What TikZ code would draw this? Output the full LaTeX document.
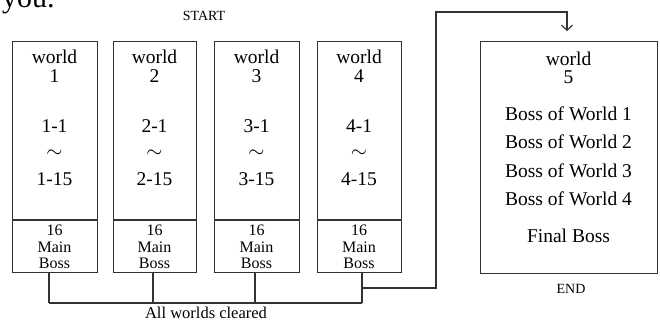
\documentclass[tikz,border=0pt]{standalone}
\usepackage{fontspec}
\setmainfont{Liberation Serif}
\usetikzlibrary{arrows.meta}
\begin{document}
\begin{tikzpicture}[x=1pt,y=-1pt,
  box/.style={draw=black!80, line width=1.2pt, anchor=north west, inner sep=0pt},
  wire/.style={draw=black!80, line width=1.2pt},
  big/.style={anchor=base, inner sep=0pt, text=black, font=\fontsize{19.5}{22}\selectfont},
  small/.style={anchor=base, inner sep=0pt, text=black, font=\fontsize{16}{18}\selectfont},
  lbl/.style={anchor=base, inner sep=0pt, text=black, font=\fontsize{14}{16}\selectfont}]
\useasboundingbox (0,0) rectangle (660,322);
\fill[white] (0,0) rectangle (660,322);
\node[anchor=base west, inner sep=0pt, text=black, font=\fontsize{30}{34}\selectfont] (you) at (2,7) {you.};
\node[lbl] (start) at (204,20) {START};
% world boxes 1-4
\foreach \i/\l/\w/\cx/\jx in {1/12/85/54.5/49, 2/113/83/154.5/153, 3/214/85/256.5/255, 4/317/84/359/362}{
  \node[box, minimum width=\w pt, minimum height=231pt] (b\i) at (\l,41) {};
  \draw[wire] ([yshift=-179pt]b\i.north west) -- ([yshift=-179pt]b\i.north east);
  \node[big] (w\i) at (\cx,63) {world};
  \node[big] (n\i) at (\cx,82) {\i};
  \node[big] (f\i) at (\cx,132) {\i-1};
  \node[big] (t\i) at (\cx,157) {\(\sim\)};
  \node[big] (l\i) at (\cx,185) {\i-15};
  \node[small] (s\i) at (\cx,235) {16};
  \node[small] (m\i) at (\cx,252) {Main};
  \node[small] (o\i) at (\cx,268) {Boss};
  \coordinate (j\i) at (\jx,303);
}
% world 5
\node[box, minimum width=177pt, minimum height=232pt] (b5) at (480,41) {};
\node[big] (w5) at (568.5,65) {world};
\node[big] (n5) at (568.5,83) {5};
\node[big] (bw1) at (568.5,120) {Boss of World 1};
\node[big] (bw2) at (568.5,148) {Boss of World 2};
\node[big] (bw3) at (568.5,177) {Boss of World 3};
\node[big] (bw4) at (568.5,205) {Boss of World 4};
\node[big] (fb) at (568.5,242) {Final Boss};
\node[lbl] (end) at (571,293) {END};
\node[anchor=base, inner sep=0pt, text=black, font=\fontsize{16.5}{18}\selectfont] (clr) at (206,318) {All worlds cleared};
% connectors
\foreach \i in {1,2,3,4}{
  \draw[wire] (b\i.south -| j\i) -- (j\i);
}
\draw[wire] (j1) -- (j4);
\coordinate (k) at (362,288);
\coordinate (c1) at (436,288);
\coordinate (c2) at (436,12);
\coordinate (c3) at (567,12);
\coordinate (arr) at (567,31);
\draw[wire, -{Straight Barb[length=5pt,width=11pt,line width=1.2pt]}] (k) -- (c1) -- (c2) -- (c3) -- (arr);
\end{tikzpicture}
\end{document}
